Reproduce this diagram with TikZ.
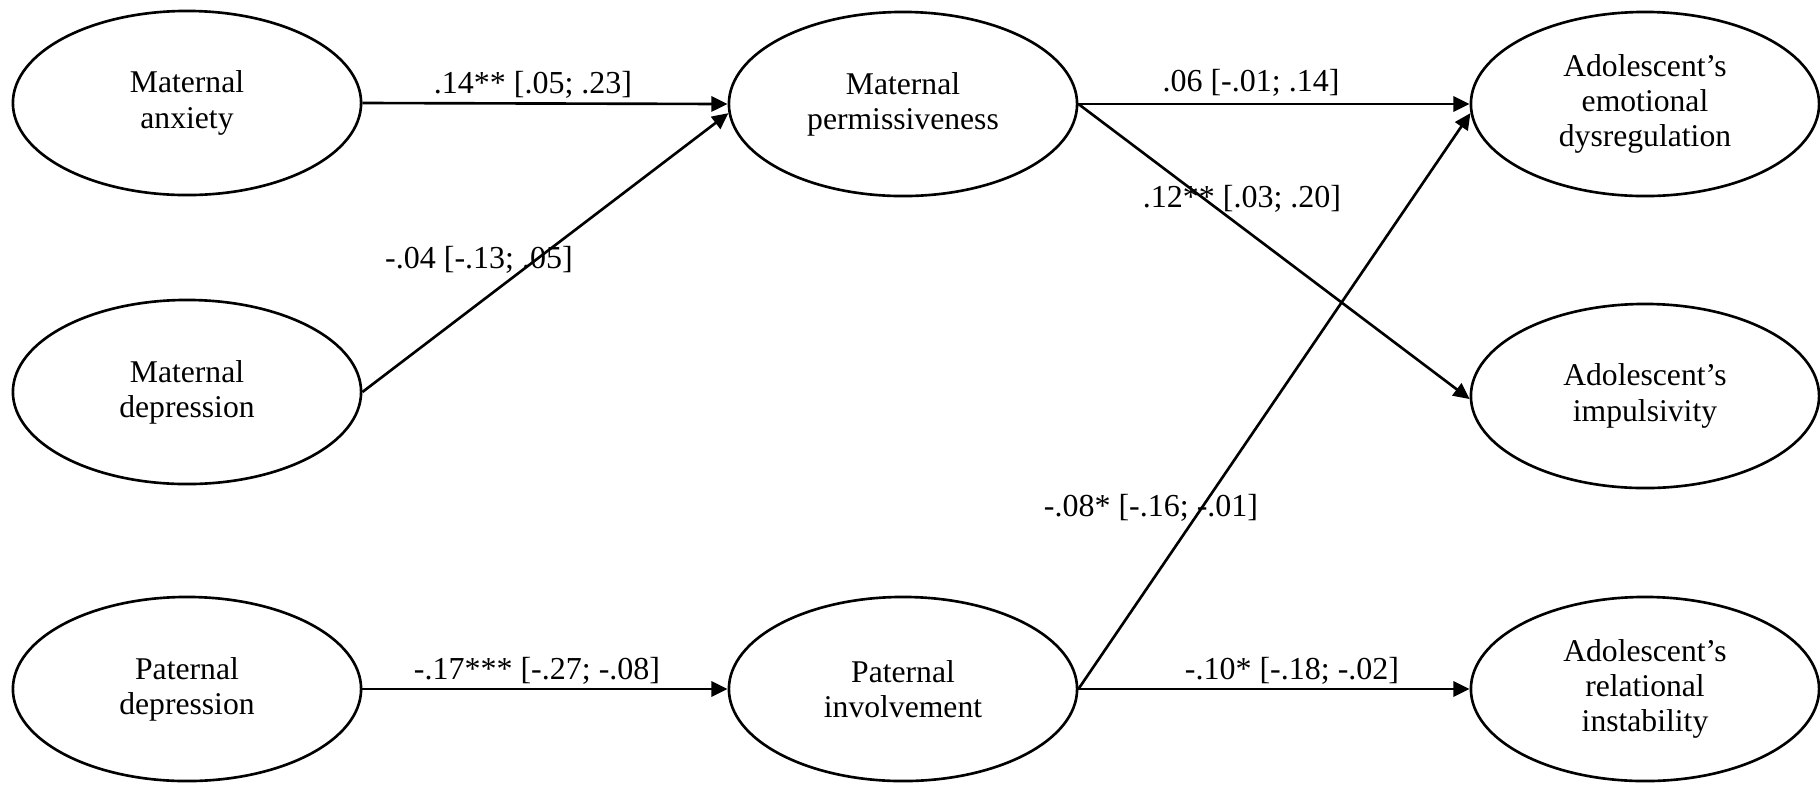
\documentclass[tikz,border=0pt]{standalone}
\usepackage{fontspec}
\setmainfont{Liberation Serif}
\usetikzlibrary{shapes.geometric,arrows.meta}
\begin{document}
\begin{tikzpicture}[x=0.01cm,y=-0.01cm,
  var/.style={draw,ellipse,line width=0.75pt,minimum width=3.48cm,minimum height=1.84cm,inner sep=0pt,align=center,font=\fontsize{9}{10}\selectfont},
  path/.style={line width=0.75pt,-{Triangle[length=4.6pt,width=4.3pt]}},
  coef/.style={font=\fontsize{9.1}{10}\selectfont,inner sep=0pt}]
\useasboundingbox (0,0) rectangle (1820,787);
\node[var] (anx) at (187,103) {Maternal\\anxiety};
\node[var] (mdep) at (187,392) {Maternal\\depression};
\node[var] (pdep) at (187,689) {Paternal\\depression};
\node[var] (perm) at (903,104) {Maternal\\permissiveness};
\node[var] (inv) at (903,689) {Paternal\\involvement};
\node[var] (emo) at (1645,104) {Adolescent’s\\emotional\\dysregulation};
\node[var] (imp) at (1645,396) {Adolescent’s\\impulsivity};
\node[var] (rel) at (1645,689) {Adolescent’s\\relational\\instability};
\draw[path] (anx.east) -- (perm.west);
\draw[path] (mdep.east) -- (perm.183);
\draw[path] (pdep.east) -- (inv.west);
\draw[path] (perm.east) -- (emo.west);
\draw[path] (perm.east) -- (imp.181);
\draw[path] (inv.east) -- (emo.183);
\draw[path] (inv.east) -- (rel.west);
\node[coef] (c1) at (533,85) {.14** [.05; .23]};
\node[coef] (c2) at (479,260) {-.04 [-.13; .05]};
\node[coef] (c3) at (537,671) {-.17*** [-.27; -.08]};
\node[coef] (c4) at (1251,83) {.06 [-.01; .14]};
\node[coef] (c5) at (1242,199) {.12** [.03; .20]};
\node[coef] (c6) at (1151,508) {-.08* [-.16; -.01]};
\node[coef] (c7) at (1292,671) {-.10* [-.18; -.02]};
\end{tikzpicture}
\end{document}
